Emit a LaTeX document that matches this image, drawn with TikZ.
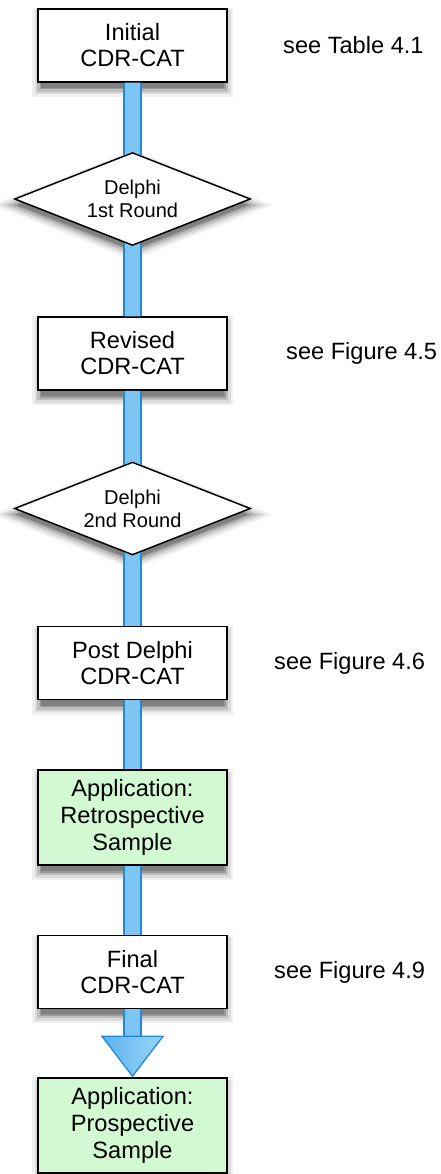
\documentclass[tikz,border=0pt]{standalone}
\usepackage{fontspec}
\setmainfont{Liberation Sans}
\usetikzlibrary{shapes.geometric,calc}

\definecolor{shaftfill}{HTML}{7DC5F2}
\definecolor{shaftline}{HTML}{2189D8}
\definecolor{appfill}{HTML}{D3F9D3}
\definecolor{headleft}{HTML}{5DB3EE}
\definecolor{headright}{HTML}{9AD6F9}

\tikzset{
  stage/.style={draw=black, line width=1.5pt, fill=white,
      minimum width=189pt, minimum height=73pt, inner sep=0pt, align=center,
      font=\fontsize{23.6}{26}\selectfont},
  appbox/.style={stage, fill=appfill, minimum height=95pt,
      font=\fontsize{23.6}{27}\selectfont},
  round/.style={diamond, draw=black, line width=1.5pt, fill=white,
      aspect=2.54, minimum width=236pt, minimum height=93pt, inner sep=0pt,
      align=center, font=\fontsize{20}{23}\selectfont},
  note/.style={anchor=west, inner sep=0pt, font=\fontsize{23.6}{26}\selectfont},
  shaft/.style={fill=shaftfill},
  shaftedge/.style={draw=shaftline, line width=1.8pt},
  % soft shadow: pale wide rims first, darker narrow rims last, grey core
  softshadow/.style={line join=round,
      preaction={draw=black!6,  line width=18pt},
      preaction={draw=black!14, line width=13pt},
      preaction={draw=black!26, line width=8pt},
      preaction={draw=black!40, line width=3pt},
      fill=black!50},
}

% half width of a connector shaft and the drop of a diamond side over it
\def\sw{8.3pt}
\def\sd{3.27pt}

% box above, diamond below
\newcommand\linkboxround[2]{%
  \fill[shaft] ([xshift=-\sw]#1.south) -- ([xshift=\sw]#1.south)
    -- ([xshift=\sw,yshift=-\sd]#2.north) -- (#2.north)
    -- ([xshift=-\sw,yshift=-\sd]#2.north) -- cycle;
  \draw[shaftedge] ([xshift=-\sw]#1.south) -- ([xshift=-\sw,yshift=-\sd]#2.north);
  \draw[shaftedge] ([xshift=\sw]#1.south) -- ([xshift=\sw,yshift=-\sd]#2.north);}
% diamond above, box below
\newcommand\linkroundbox[2]{%
  \fill[shaft] ([xshift=-\sw,yshift=\sd]#1.south) -- (#1.south)
    -- ([xshift=\sw,yshift=\sd]#1.south) -- ([xshift=\sw]#2.north)
    -- ([xshift=-\sw]#2.north) -- cycle;
  \draw[shaftedge] ([xshift=-\sw,yshift=\sd]#1.south) -- ([xshift=-\sw]#2.north);
  \draw[shaftedge] ([xshift=\sw,yshift=\sd]#1.south) -- ([xshift=\sw]#2.north);}
% box above, box below
\newcommand\linkboxbox[2]{%
  \fill[shaft] ([xshift=-\sw]#1.south) rectangle ([xshift=\sw]#2.north);
  \draw[shaftedge] ([xshift=-\sw]#1.south) -- ([xshift=-\sw]#2.north);
  \draw[shaftedge] ([xshift=\sw]#1.south) -- ([xshift=\sw]#2.north);}

\begin{document}
\begin{tikzpicture}[x=1pt, y=-1pt]
  \useasboundingbox (0,0) rectangle (441,1174);

  % shadows beneath the stages, each the outline moved down a little
  \path[softshadow] (41,17) rectangle (224,88);
  \path[softshadow] (132.5,160) -- (247.5,205) -- (132.5,250) -- (17.5,205) -- cycle;
  \path[softshadow] (41,325) rectangle (224,396);
  \path[softshadow] (132.5,469.5) -- (247.5,514.5) -- (132.5,559.5) -- (17.5,514.5) -- cycle;
  \path[softshadow] (41,634.5) rectangle (224,705.5);
  \path[softshadow] (41,778) rectangle (224,871);
  \path[softshadow] (41,943.5) rectangle (224,1014);
  \path[softshadow] (41,1086) rectangle (224,1178);

  % process stages
  \node[stage]  (initial) at (132.5,45.5)  {Initial\\CDR-CAT};
  \node[round]  (round1)  at (132.5,199)   {Delphi\\1st Round};
  \node[stage]  (revised) at (132.5,353.5) {Revised\\CDR-CAT};
  \node[round]  (round2)  at (132.5,508.5) {Delphi\\2nd Round};
  \node[stage]  (post)    at (132.5,663)   {Post Delphi\\CDR-CAT};
  \node[appbox] (retro)   at (132.5,817.5) {Application:\\Retrospective\\Sample};
  \node[stage]  (final)   at (132.5,972)   {Final\\CDR-CAT};
  \node[appbox] (prosp)   at (132.5,1125.5){Application:\\Prospective\\Sample};

  % references to tables and figures
  \node[note] (n1) at (283,45.5)  {see Table 4.1};
  \node[note] (n2) at (286,353.5) {see Figure 4.5};
  \node[note] (n3) at (274,663)   {see Figure 4.6};
  \node[note] (n4) at (274,972)   {see Figure 4.9};

  % connecting shafts
  \linkboxround{initial}{round1}
  \linkroundbox{round1}{revised}
  \linkboxround{revised}{round2}
  \linkroundbox{round2}{post}
  \linkboxbox{post}{retro}
  \linkboxbox{retro}{final}

  % final block arrow into the prospective application
  \coordinate (headbase) at ($(prosp.north)+(0,-41)$);
  \fill[shaft] ([xshift=-\sw]final.south) rectangle ([xshift=\sw]headbase);
  \draw[shaftedge] ([xshift=-\sw]final.south) -- ([xshift=-\sw]headbase);
  \draw[shaftedge] ([xshift=\sw]final.south) -- ([xshift=\sw]headbase);
  \draw[shaftline, line width=1.3pt, line join=miter, left color=headleft, right color=headright]
    ([xshift=-30.5pt]headbase) -- ([xshift=30.5pt]headbase)
    -- ([yshift=1pt]prosp.north) -- cycle;
\end{tikzpicture}
\end{document}
